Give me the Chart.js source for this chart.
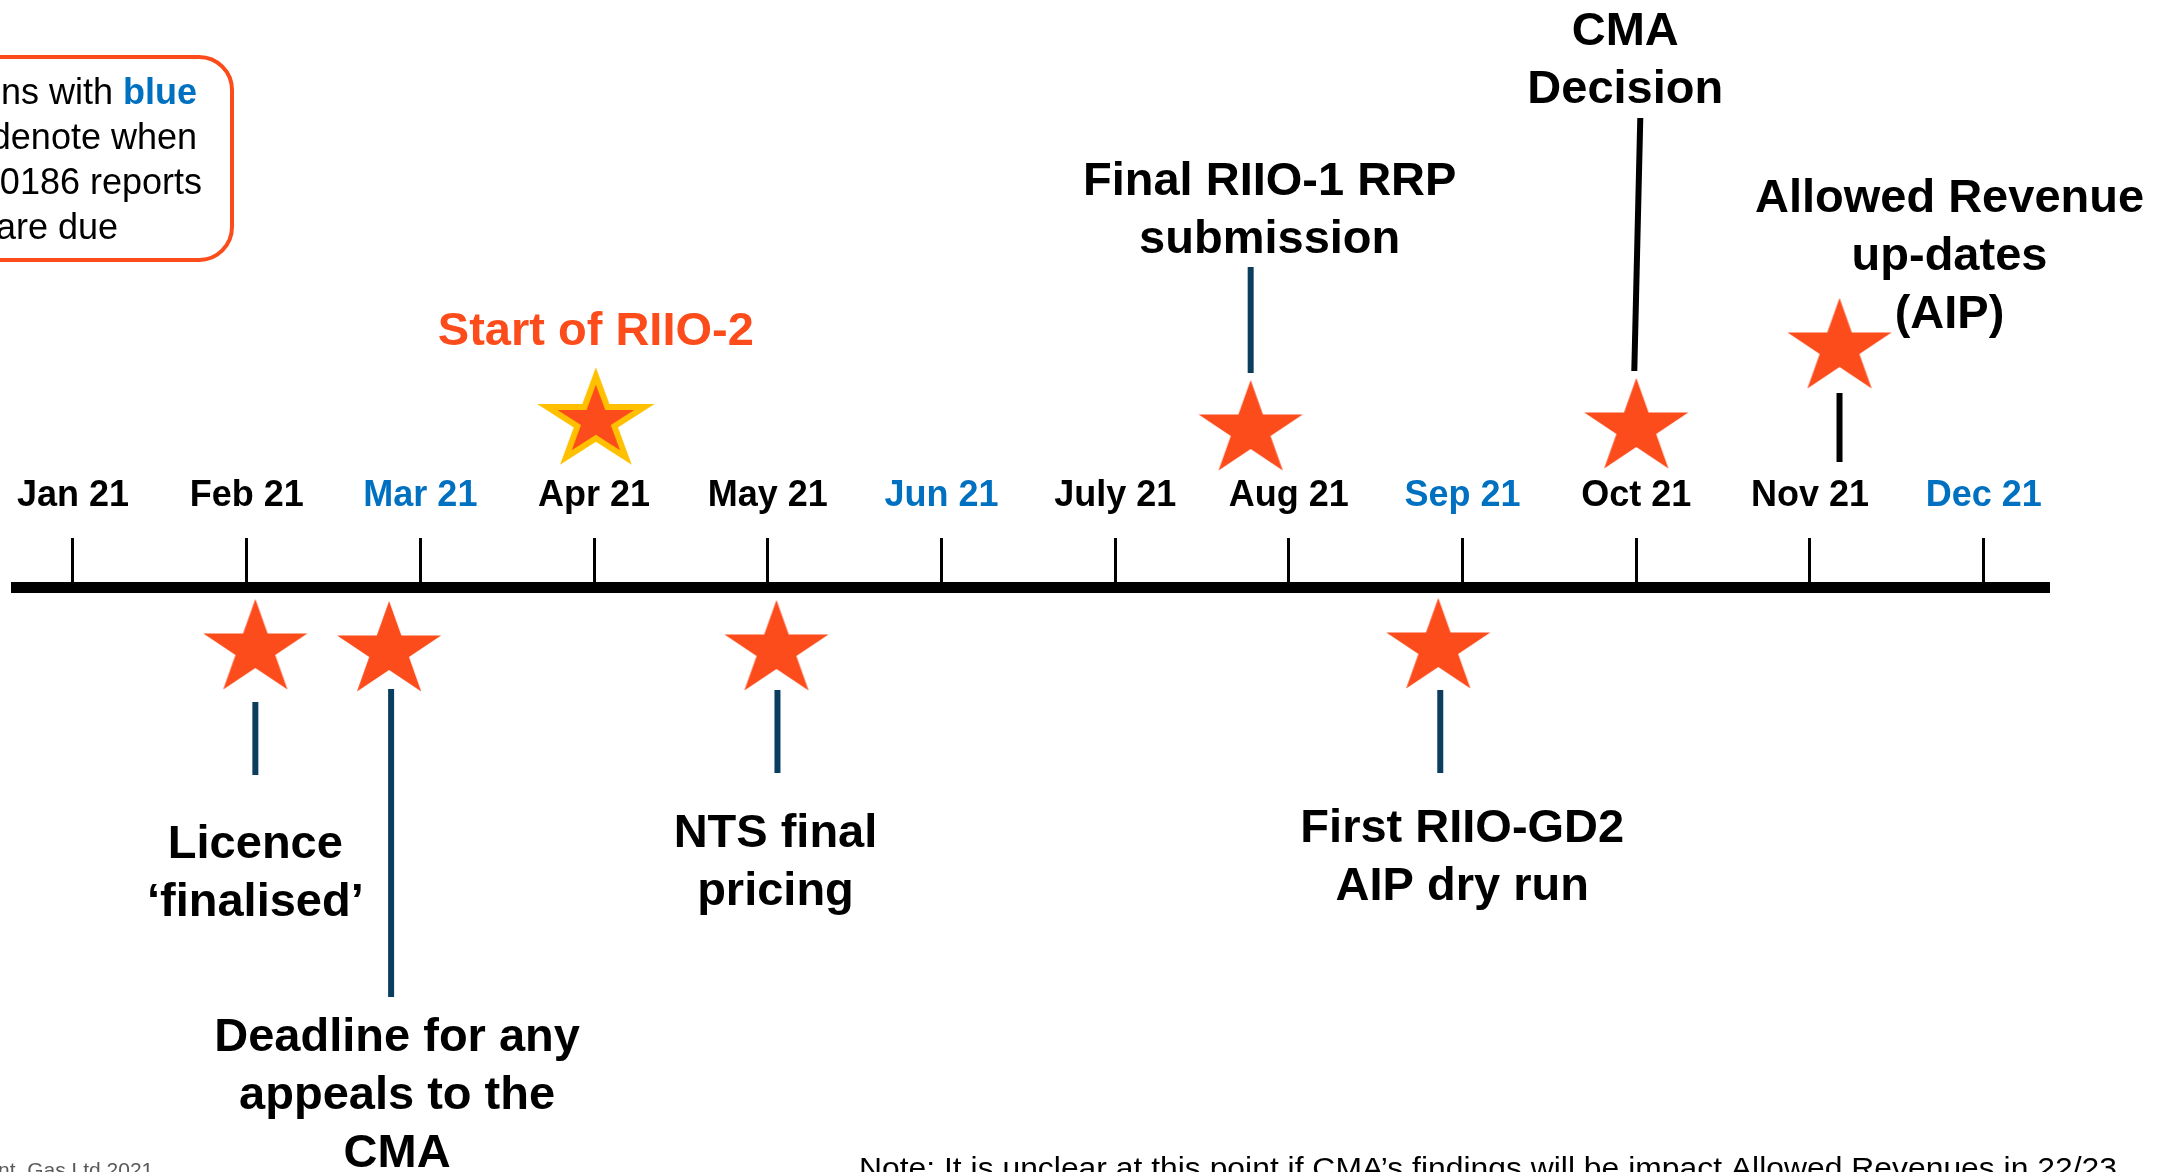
<!DOCTYPE html>
<html>
<head>
<meta charset="utf-8">
<script src="https://cdn.jsdelivr.net/npm/chart.js@4.4.1/dist/chart.umd.min.js"></script>
<style>
  html, body { margin: 0; padding: 0; background: #fff; overflow: hidden; }
</style>
</head>
<body>
<canvas id="canvas" width="2177" height="1172"></canvas>
<script>
// month ticks along the timeline
const months = ['Jan 21', 'Feb 21', 'Mar 21', 'Apr 21', 'May 21', 'Jun 21', 'July 21', 'Aug 21', 'Sep 21', 'Oct 21', 'Nov 21', 'Dec 21'];
// months where reports are due (shown in blue)
const reportMonths = ['Mar 21', 'Jun 21', 'Sep 21', 'Dec 21'];

// events: position in months from Jan 21, and level above (+) / below (-) the line
const eventMonth = [1.05, 1.82, 3.01, 4.05, 6.78, 7.86, 9.0, 10.17];
const eventLevel = [-0.62, -0.64, 1.66, -0.63, 1.57, -0.61, 1.59, 2.39];
const eventText = [
  ['Licence', '‘finalised’'],
  ['Deadline for any', 'appeals to the', 'CMA'],
  ['Start of RIIO-2'],
  ['NTS final', 'pricing'],
  ['Final RIIO-1 RRP', 'submission'],
  ['First RIIO-GD2', 'AIP dry run'],
  ['CMA', 'Decision'],
  ['Allowed Revenue', 'up-dates', '(AIP)']
];

const ORANGE = '#FC4C1B';
const NAVY = '#0B3D5F';
const BLUE = '#0070C0';
const FONT = '"Liberation Sans", Arial, sans-serif';

// text / leader placement relative to each star (pixels)
const calloutLayout = [
  { dx: 0, dy: 209, leader: [0, 53, 0, 126], lineColor: NAVY },
  { dx: 8, dy: 400, leader: [2, 38, 2, 346], lineColor: NAVY },
  { dx: 0, dy: -76, color: ORANGE },
  { dx: -1, dy: 197, leader: [1, 40, 1, 123], lineColor: NAVY },
  { dx: 19, dy: -235, leader: [0, -163, 0, -57], lineColor: NAVY },
  { dx: 24, dy: 194, leader: [2, 42, 2, 125], lineColor: NAVY },
  { dx: -11, dy: -383, leader: [4, -310, -2, -57], lineColor: '#000' },
  { dx: 110, dy: -136, leader: [0, 45, 0, 114], lineColor: '#000' }
];

function makeStar(rx, ry, outline) {
  const c = document.createElement('canvas');
  c.width = 140; c.height = 140;
  const g = c.getContext('2d');
  g.beginPath();
  for (let k = 0; k < 10; k++) {
    const a = -Math.PI / 2 + k * Math.PI / 5;
    const f = k % 2 ? 0.382 : 1;
    const px = 70 + Math.cos(a) * rx * f, py = 70 + Math.sin(a) * ry * f;
    k ? g.lineTo(px, py) : g.moveTo(px, py);
  }
  g.closePath();
  g.fillStyle = ORANGE;
  g.fill();
  if (outline) {
    g.lineJoin = 'miter';
    g.lineWidth = 6;
    g.strokeStyle = outline;
    g.stroke();
  }
  return c;
}
const plainStar = makeStar(54.7, 50);
const goldStar = makeStar(51, 45, '#FFC000');

const callouts = {
  id: 'callouts',
  afterDatasetsDraw(chart) {
    const { ctx, scales: { x, y } } = chart;
    ctx.save();
    eventMonth.forEach((m, i) => {
      const px = x.getPixelForValue(m);
      const py = y.getPixelForValue(eventLevel[i]);
      const c = calloutLayout[i];
      if (c.leader) {
        ctx.beginPath();
        ctx.moveTo(px + c.leader[0], py + c.leader[1]);
        ctx.lineTo(px + c.leader[2], py + c.leader[3]);
        ctx.lineWidth = 6;
        ctx.strokeStyle = c.lineColor;
        ctx.stroke();
      }
      ctx.font = 'bold 47px ' + FONT;
      ctx.textAlign = 'center';
      ctx.textBaseline = 'alphabetic';
      ctx.fillStyle = c.color || '#000';
      eventText[i].forEach((t, k) => ctx.fillText(t, px + c.dx, py + c.dy + k * 58));
    });
    ctx.restore();
  },
  afterDraw(chart) {
    const ctx = chart.ctx;
    ctx.save();
    // key box, cut by the left edge
    ctx.beginPath();
    ctx.roundRect(-60, 57, 292, 203, 33);
    ctx.lineWidth = 4;
    ctx.strokeStyle = ORANGE;
    ctx.stroke();
    ctx.textAlign = 'right';
    ctx.textBaseline = 'alphabetic';
    ctx.font = 'bold 36px ' + FONT;
    ctx.fillStyle = BLUE;
    ctx.fillText('blue', 197, 104);
    const bw = ctx.measureText('blue').width;
    ctx.font = '36px ' + FONT;
    ctx.fillStyle = '#000';
    ctx.fillText('ns with ', 197 - bw, 104);
    ctx.fillText('denote when', 197, 149);
    ctx.fillText('0186 reports', 202, 194);
    ctx.fillText('are due', 118, 239);

    // footer copyright (cut off)
    ctx.textAlign = 'left';
    ctx.font = '21px ' + FONT;
    ctx.fillStyle = '#595959';
    ctx.fillText('nt. Gas Ltd 2021', -2, 1177);

    // note (cut off)
    const note = 'Note: It is unclear at this point if CMA’s findings will be impact Allowed Revenues in 22/23';
    ctx.font = '29px ' + FONT;
    ctx.fillStyle = '#000';
    const w = ctx.measureText(note).width;
    ctx.translate(859, 1178);
    ctx.scale(1258 / w, 1);
    ctx.fillText(note, 0, 0);
    ctx.restore();
  }
};

new Chart(document.getElementById('canvas'), {
  type: 'scatter',
  data: {
    datasets: [{
      data: eventMonth.map((m, i) => ({ x: m, y: eventLevel[i] })),
      pointStyle: eventMonth.map((m, i) => i === 2 ? goldStar : plainStar),
      pointRadius: 50,
      pointHoverRadius: 50,
      showLine: false
    }]
  },
  options: {
    responsive: false,
    devicePixelRatio: 1,
    animation: false,
    events: [],
    layout: { autoPadding: false, padding: { left: 16, right: 128, top: 0, bottom: 0 } },
    plugins: { legend: { display: false }, tooltip: { enabled: false } },
    scales: {
      y: { display: false, min: -5.85, max: 5.87 },
      x: {
        type: 'linear',
        position: { y: 0 },
        min: -0.328,
        max: 11.376,
        afterBuildTicks: s => { s.ticks = months.map((m, i) => ({ value: i })); },
        afterFit: s => { s.paddingLeft = 0; s.paddingRight = 0; },
        grid: { drawOnChartArea: false, drawTicks: true, tickLength: -55, tickWidth: 3, tickColor: '#000' },
        border: { display: true, width: 11, color: '#000' },
        ticks: {
          autoSkip: false,
          maxRotation: 0,
          minRotation: 0,
          padding: -58,
          font: { family: FONT, weight: 'bold', size: 36 },
          color: c => reportMonths.includes(months[c.index]) ? BLUE : '#000',
          callback: v => months[v]
        }
      }
    }
  },
  plugins: [callouts]
});
</script>
</body>
</html>
